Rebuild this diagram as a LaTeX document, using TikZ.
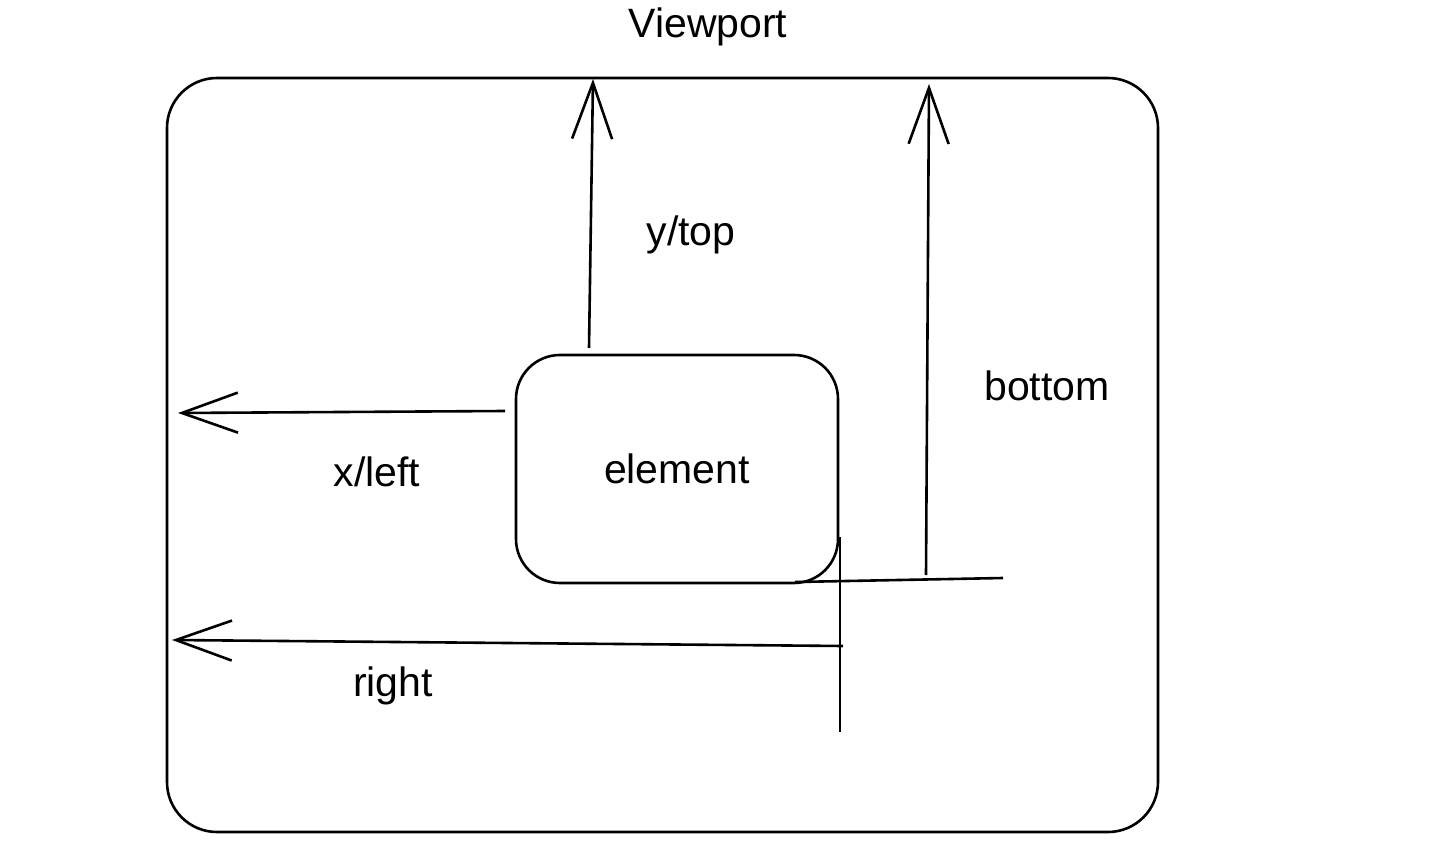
\documentclass[tikz,border=0pt]{standalone}
\usepackage{fontspec}
\setmainfont{Liberation Sans}
\usetikzlibrary{arrows.meta}
\begin{document}
\begin{tikzpicture}[x=0.5pt,y=-0.5pt,
  box/.style={draw=black, line width=1.3pt, rounded corners=#1, inner sep=0pt},
  lbl/.style={font=\fontsize{20.5}{22}\selectfont, text=black},
  conn/.style={line width=1.3pt, -{Straight Barb[length=28pt,width=20pt,line width=1.3pt]}},
  plain/.style={line width=1.3pt}]
\useasboundingbox (0,0) rectangle (1430,866);
\fill[white] (0,0) rectangle (1430,866);
\node[box=25pt, minimum width=495.5pt, minimum height=377pt] (vp) at (662.5,455) {};
\node[box=22pt, minimum width=161pt, minimum height=114pt, lbl] (el) at (677,469) {element};
\node[lbl] (tvp) at (708,27) {Viewport};
\node[lbl] (ttop) at (691,235) {y/top};
\node[lbl] (tbot) at (1047,386) {bottom};
\node[lbl] (tleft) at (377,472) {x/left};
\node[lbl] (tright) at (393,686) {right};
\coordinate (topS) at (589,348);
\coordinate (topE) at (593,79);
\coordinate (botS) at (926,575);
\coordinate (botE) at (929,84);
\coordinate (blA) at (795,582);
\coordinate (blB) at (1003,578);
\coordinate (lS) at (505,411);
\coordinate (lE) at (178,413);
\coordinate (rvA) at (840,537);
\coordinate (rvB) at (840,732);
\coordinate (rS) at (843,646);
\coordinate (rE) at (172,640);
\draw[conn] (topS) -- (topE);
\draw[conn] (botS) -- (botE);
\draw[plain] (blA) -- (blB);
\draw[conn] (lS) -- (lE);
\draw[plain] (rvA) -- (rvB);
\draw[conn] (rS) -- (rE);
\end{tikzpicture}
\end{document}
